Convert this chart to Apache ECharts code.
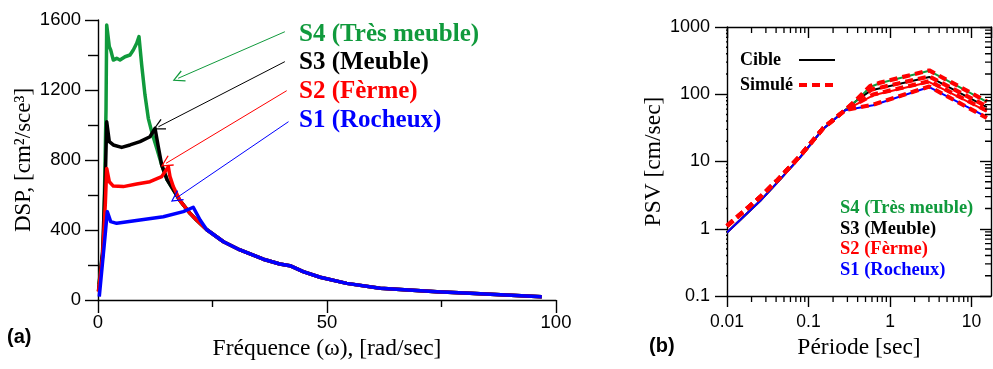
<!DOCTYPE html>
<html>
<head>
<meta charset="utf-8">
<script src="https://cdn.jsdelivr.net/npm/echarts@6/dist/echarts.min.js"></script>
<style>
  html, body { margin: 0; padding: 0; background: #fff; }
  #chart { width: 993px; height: 369px; }
</style>
</head>
<body>
<div id="chart"></div>
<script>
// ---------- (a) power spectral density vs circular frequency ----------
const freqS4 = [0.2, 0.3, 1.16, 1.53, 1.75, 1.9, 2.47, 2.77, 3.34, 4.08, 4.8, 5.9, 6.99, 7.71, 8.45, 8.95, 9.54, 10.26, 10.98, 11.72, 12.82, 13.91];
const dspS4  = [90, 114, 286, 771, 1086, 1571, 1448, 1429, 1371, 1381, 1371, 1390, 1400, 1429, 1467, 1505, 1343, 1171, 1038, 962, 867, 771];

const freqS3 = [0.1, 1.0, 1.6, 1.9, 2.47, 3.34, 5.17, 6.99, 9.17, 11.35, 12.45, 13.17, 13.91];
const dspS3  = [50, 280, 700, 1019, 905, 886, 872, 886, 905, 933, 981, 876, 771];

const freqS2 = [0.1, 1.0, 1.6, 1.9, 2.47, 3.34, 5.52, 8.45, 11.35, 13.91, 15.35, 15.72, 16.44];
const dspS2  = [48, 250, 550, 752, 676, 651, 648, 663, 676, 705, 762, 705, 648];

const freqS1 = [0.28, 1.53, 2.03, 2.77, 4.08, 9.17, 14.26, 18.62, 20.8, 22.3];
const dspS1  = [19, 362, 505, 448, 438, 457, 476, 505, 530, 457];

// decaying branch shared by all four soil classes
const freqTail = [15.1, 17.9, 20.1, 21.5, 23.7, 27.4, 31.0, 36.1, 39.7, 41.9, 44.8, 48.5, 54.3, 61.6, 74.0, 81.2, 96.9];
const dspTail  = [686, 568, 495, 457, 403, 333, 286, 233, 206, 196, 162, 130, 95, 67, 47, 38, 19];

// arrow start (label side) and tip, in data units
const arrowS4 = [[40.8, 1533], [17.5, 1267]];
const arrowS3 = [[40.8, 1362], [13.2, 990]];
const arrowS2 = [[41.2, 1196], [14.85, 781]];
const arrowS1 = [[41.6, 1019], [17.0, 581]];

// ---------- (b) pseudo-velocity response spectra ----------
const periodS4 = [0.01, 0.0254, 0.041, 0.0787, 0.152, 0.28, 0.39, 0.57, 0.76, 3.03, 15.4];
const targetS4 = [0.88, 2.58, 4.8, 11.5, 30.8, 57.7, 81, 128, 147, 223, 77];
const simS4    = [1.1, 2.95, 5.2, 12.1, 31.5, 58, 84, 133, 149, 226, 78];

const periodS3 = [0.01, 0.0254, 0.041, 0.0787, 0.152, 0.28, 0.39, 0.59, 3.03, 15.4];
const targetS3 = [0.88, 2.58, 4.8, 11.5, 30.8, 57.7, 81, 115, 181, 64.6];
const simS3    = [1.1, 2.95, 5.2, 12.1, 31.5, 58, 82, 117, 184, 66];

const periodS2 = [0.01, 0.0254, 0.041, 0.0787, 0.152, 0.28, 0.62, 3.03, 15.4];
const targetS2 = [0.88, 2.58, 4.8, 11.5, 30.8, 57.7, 96.6, 152, 55.7];
const simS2    = [1.1, 2.95, 5.2, 12.1, 31.5, 58, 99, 156, 57];

const periodS1 = [0.01, 0.0254, 0.041, 0.0787, 0.152, 0.28, 0.62, 3.03, 15.4];
const targetS1 = [0.88, 2.58, 4.8, 11.5, 30.8, 57.7, 68.5, 128, 45.8];
const simS1    = [1.1, 2.95, 5.2, 12.1, 31.5, 58, 70, 130, 44.5];

const soilLabels = ['S4 (Très meuble)', 'S3 (Meuble)', 'S2 (Fèrme)', 'S1 (Rocheux)'];
const soilColors = ['#109a3c', '#000000', '#ff0000', '#0000ff'];

const periodMin = 0.01, periodMax = 17.3, psvMin = 0.1, psvMax = 1000;
const xMinorTicks = [0.02,0.03,0.04,0.05,0.06,0.07,0.08,0.09, 0.2,0.3,0.4,0.5,0.6,0.7,0.8,0.9, 2,3,4,5,6,7,8,9];
const yMinorTicks = [0.2,0.3,0.4,0.5,0.6,0.7,0.8,0.9, 2,3,4,5,6,7,8,9, 20,30,40,50,60,70,80,90, 200,300,400,500,600,700,800,900];

// ---------- layout ----------
const gridB = { left: 727, top: 27, width: 264, height: 269 };
const minorLen = 6; // minor tick length in px
// multiplicative step that spans minorLen pixels on each log axis
const xStep = Math.pow(periodMax / periodMin, minorLen / gridB.width);
const yStep = Math.pow(psvMax / psvMin, minorLen / gridB.height);

// ---------- helpers ----------
const zip = (xs, ys) => xs.map((x, i) => [x, ys[i]]);
const withTail = (xs, ys) => {
  const last = xs[xs.length - 1];
  const pts = zip(xs, ys);
  freqTail.forEach((f, i) => { if (f > last) pts.push([f, dspTail[i]]); });
  return pts;
};
const SERIF = '"Liberation Serif", "Times New Roman", serif';
const SANS = '"Liberation Sans", Arial, sans-serif';
const CHEVRON = 'path://M5,0 L10,11 L9,11.6 L5,2.4 L1,11.6 L0,11 Z';

const arrow = (pts, color) => ({
  silent: true,
  symbol: ['none', CHEVRON],
  symbolSize: 12,
  label: { show: false },
  lineStyle: { color: color, width: 1, type: 'solid' },
  data: [[{ coord: pts[0] }, { coord: pts[1] }]]
});

const dspSeries = (name, data, color, arrowPts) => ({
  name: name, type: 'line', xAxisIndex: 0, yAxisIndex: 0,
  data: data, showSymbol: false, symbol: 'none',
  lineStyle: { color: color, width: 3.5, join: 'round' },
  itemStyle: { color: color },
  markLine: arrow(arrowPts, color),
  z: 3
});

const psvSeries = (name, periods, vals, color, dashed) => ({
  name: name, type: 'line', xAxisIndex: 1, yAxisIndex: 1,
  data: zip(periods, vals), showSymbol: false, symbol: 'none',
  lineStyle: dashed
    ? { color: '#ff0000', width: 4.2, type: [8, 5], cap: 'butt' }
    : { color: color, width: 2 },
  itemStyle: { color: dashed ? '#ff0000' : color },
  z: dashed ? 4 : 3
});

// minor decade ticks of the log-log frame, as broken line segments
// (outer on bottom/left, inner on top/right)
const xTickPts = xMinorTicks.flatMap(v => [
  [v, psvMin], [v, psvMin / yStep], [v, null],
  [v, psvMax], [v, psvMax / yStep], [v, null]
]);
const yTickPts = yMinorTicks.flatMap(v => [
  [periodMin, v], [periodMin / xStep, v], [null, v],
  [periodMax, v], [periodMax / xStep, v], [null, v]
]);
const tickLines = (pts) => ({
  type: 'line', xAxisIndex: 1, yAxisIndex: 1,
  data: pts, showSymbol: false, symbol: 'none',
  connectNulls: false, clip: false, silent: true,
  lineStyle: { color: '#000', width: 1.3, cap: 'butt' },
  z: 6
});

// free-standing captions
const caption = (text, left, top, color, font, size, weight) => ({
  text: text, left: left, top: top, padding: 0, itemGap: 0,
  textStyle: { color: color, fontFamily: font, fontSize: size, fontWeight: weight }
});

const black = { color: '#000', width: 1.4 };
const plainFmt = v => String(+(+v).toPrecision(4));

const option = {
  animation: false,
  backgroundColor: '#fff',
  title: [
    ...soilLabels.map((t, i) => caption(t, 299, [33, 61, 90, 119][i] - 11, soilColors[i], SERIF, 25, 'bold')),
    ...soilLabels.map((t, i) => caption(t, 840, [207, 228, 248, 269][i] - 8, soilColors[i], SERIF, 18.5, 'bold')),
    caption('(a)', 7, 327, '#000', SANS, 20, 'bold'),
    caption('(b)', 649, 336, '#000', SANS, 20, 'bold')
  ],
  grid: [
    { left: 98, top: 20, width: 458, height: 280, outerBoundsMode: 'none' },
    Object.assign({ outerBoundsMode: 'none' }, gridB)
  ],
  legend: {
    data: [
      { name: 'Cible', lineStyle: { color: '#000', width: 2, type: 'solid' } },
      { name: 'Simulé', lineStyle: { color: '#ff0000', width: 4, type: [8, 5] } }
    ],
    orient: 'vertical', left: 735, top: 46,
    align: 'right', itemWidth: 36, itemHeight: 14, itemGap: 7,
    selectedMode: false,
    itemStyle: { opacity: 0 },
    formatter: n => '{t|' + n + '}',
    textStyle: {
      color: '#000',
      rich: { t: { width: 54, align: 'left', fontFamily: SERIF, fontWeight: 'bold', fontSize: 18, lineHeight: 14, color: '#000' } }
    }
  },
  xAxis: [
    {
      gridIndex: 0, type: 'value', min: 0, max: 100, interval: 50,
      axisLine: { onZero: false, lineStyle: black },
      axisTick: { length: 13, lineStyle: black },
      minorTick: { show: true, splitNumber: 2, length: 7, lineStyle: black },
      splitLine: { show: false },
      axisLabel: { margin: 13, fontFamily: SANS, fontSize: 18.5, color: '#000', formatter: plainFmt },
      name: 'Fréquence (ω), [rad/sec]', nameLocation: 'middle', nameGap: 37,
      nameTextStyle: { fontFamily: SERIF, fontSize: 23.5, color: '#000' }
    },
    {
      gridIndex: 1, type: 'log', logBase: 10, min: periodMin, max: periodMax, position: 'bottom',
      axisLine: { onZero: false, lineStyle: black },
      axisTick: { length: 11, lineStyle: black },
      splitLine: { show: false },
      axisLabel: { margin: 17, fontFamily: SANS, fontSize: 17.5, color: '#000', showMaxLabel: false, formatter: plainFmt },
      name: 'Période [sec]', nameLocation: 'middle', nameGap: 37,
      nameTextStyle: { fontFamily: SERIF, fontSize: 23.5, color: '#000' }
    },
    {
      gridIndex: 1, type: 'log', logBase: 10, min: periodMin, max: periodMax, position: 'top',
      axisLine: { onZero: false, lineStyle: black },
      axisTick: { inside: true, length: 11, lineStyle: black },
      splitLine: { show: false }, axisLabel: { show: false }
    }
  ],
  yAxis: [
    {
      gridIndex: 0, type: 'value', min: 0, max: 1600, interval: 400,
      axisLine: { show: true, onZero: false, lineStyle: black },
      axisTick: { show: true, length: 13, lineStyle: black },
      minorTick: { show: true, splitNumber: 2, length: 10, lineStyle: black },
      splitLine: { show: false },
      axisLabel: { margin: 17, fontFamily: SANS, fontSize: 18.5, color: '#000', formatter: plainFmt },
      name: 'DSP, [cm²/sce³]', nameLocation: 'middle', nameGap: 62,
      nameTextStyle: { fontFamily: SERIF, fontSize: 23, color: '#000' }
    },
    {
      gridIndex: 1, type: 'log', logBase: 10, min: psvMin, max: psvMax, position: 'left',
      axisLine: { show: true, onZero: false, lineStyle: black },
      axisTick: { show: true, length: 12, lineStyle: black },
      splitLine: { show: false },
      axisLabel: { margin: 17, fontFamily: SANS, fontSize: 18, color: '#000', formatter: plainFmt },
      name: 'PSV [cm/sec]', nameLocation: 'middle', nameGap: 61,
      nameTextStyle: { fontFamily: SERIF, fontSize: 23.5, color: '#000' }
    },
    {
      gridIndex: 1, type: 'log', logBase: 10, min: psvMin, max: psvMax, position: 'right',
      axisLine: { show: true, onZero: false, lineStyle: black },
      axisTick: { show: true, inside: true, length: 11, lineStyle: black },
      splitLine: { show: false }, axisLabel: { show: false }
    }
  ],
  series: [
    dspSeries(soilLabels[0], withTail(freqS4, dspS4), soilColors[0], arrowS4),
    dspSeries(soilLabels[1], withTail(freqS3, dspS3), soilColors[1], arrowS3),
    dspSeries(soilLabels[2], withTail(freqS2, dspS2), soilColors[2], arrowS2),
    dspSeries(soilLabels[3], withTail(freqS1, dspS1), soilColors[3], arrowS1),

    psvSeries('Cible', periodS3, targetS3, soilColors[1], false),
    psvSeries('Cible', periodS4, targetS4, soilColors[0], false),
    psvSeries('Cible', periodS2, targetS2, soilColors[2], false),
    psvSeries('Cible', periodS1, targetS1, soilColors[3], false),
    psvSeries('Simulé', periodS4, simS4, null, true),
    psvSeries('Simulé', periodS3, simS3, null, true),
    psvSeries('Simulé', periodS2, simS2, null, true),
    psvSeries('Simulé', periodS1, simS1, null, true),

    tickLines(xTickPts),
    tickLines(yTickPts)
  ]
};

const chart = echarts.init(document.getElementById('chart'), null, { renderer: 'canvas' });
chart.setOption(option);
</script>
</body>
</html>
